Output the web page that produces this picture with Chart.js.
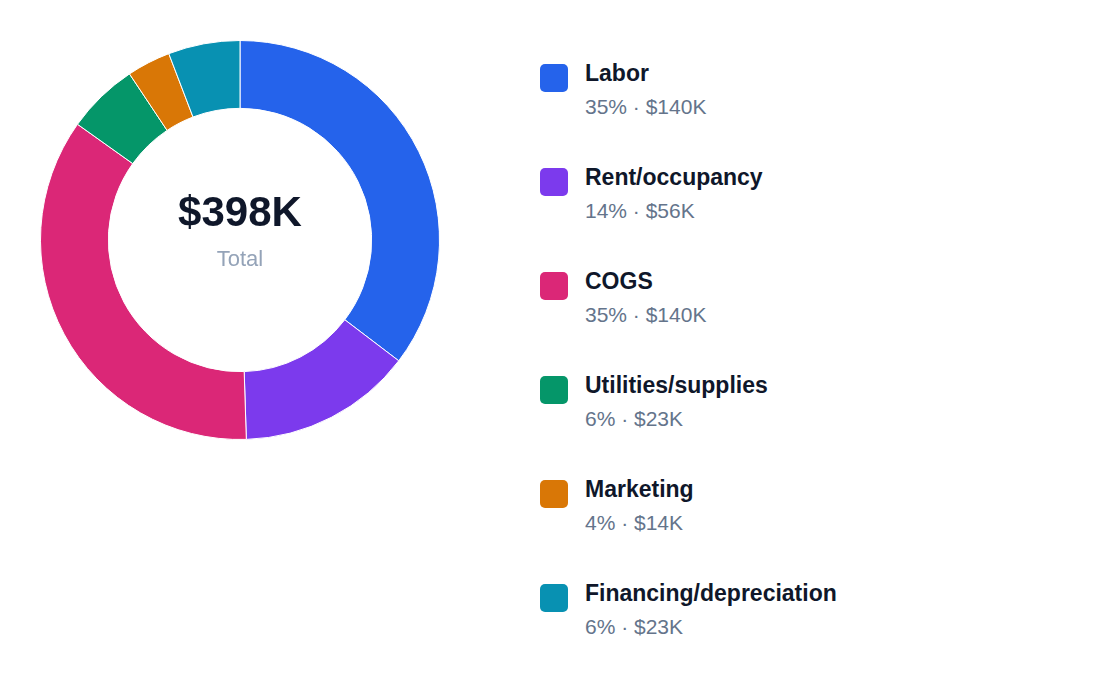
<!DOCTYPE html>
<html><head><meta charset="utf-8">
<script src="https://cdn.jsdelivr.net/npm/chart.js@4"></script>
<style>
body{margin:0;width:1120px;height:696px;background:#fff;font-family:"Liberation Sans",Arial,sans-serif;position:relative;overflow:hidden}
#wrap{position:absolute;left:40px;top:40px;width:400px;height:400px}
#center{position:absolute;left:40px;top:40px;width:400px;height:400px;display:flex;flex-direction:column;align-items:center;justify-content:center;pointer-events:none}
#center .v{font-size:42px;font-weight:bold;color:#0f172a;margin-top:-20px}
#center .t{font-size:22px;color:#94a3b8;margin-top:10px}
#legend{position:absolute;left:540px;top:60px}
.item{position:relative;height:104px}
.sw{position:absolute;left:0;top:4px;width:28px;height:28px;border-radius:5px}
.lab{position:absolute;left:45px;top:0;font-size:23px;font-weight:bold;color:#0f172a;white-space:nowrap}
.sub{position:absolute;left:45px;top:35px;font-size:21px;color:#64748b;white-space:nowrap}
</style></head><body>
<div id="wrap"><canvas id="c"></canvas></div>
<div id="center"><div class="v">$398K</div><div class="t">Total</div></div>
<div id="legend"></div>
<script>
const categories=["Labor","Rent/occupancy","COGS","Utilities/supplies","Marketing","Financing/depreciation"];
const values=[140,56,140,23,14,23];
const percents=["35%","14%","35%","6%","4%","6%"];
const amounts=["$140K","$56K","$140K","$23K","$14K","$23K"];
const colors=["#2563eb","#7c3aed","#db2777","#059669","#d97706","#0891b2"];
const lg=document.getElementById('legend');
categories.forEach((c,i)=>{const d=document.createElement('div');d.className='item';
d.innerHTML=`<div class="sw" style="background:${colors[i]}"></div><div class="lab">${c}</div><div class="sub">${percents[i]} · ${amounts[i]}</div>`;lg.appendChild(d);});
new Chart(document.getElementById('c'),{type:'doughnut',
data:{labels:categories,datasets:[{data:values,backgroundColor:colors,borderColor:'#fff',borderWidth:1}]},
options:{responsive:true,maintainAspectRatio:false,animation:false,cutout:'66%',layout:{padding:0},
plugins:{legend:{display:false},tooltip:{enabled:false}}}});
</script></body></html>
